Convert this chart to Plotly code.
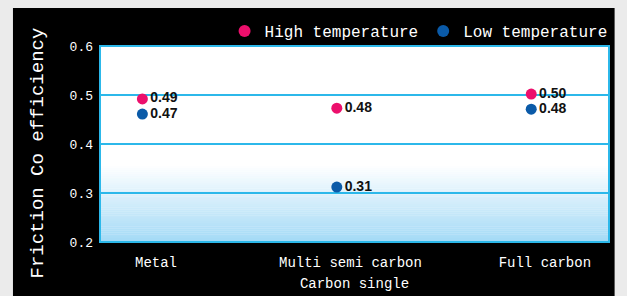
import plotly.graph_objects as go

categories = ["Metal", "Multi semi carbon", "Full carbon"]
high_temp = [0.492, 0.473, 0.502]
low_temp = [0.461, 0.312, 0.471]
high_labels = ["0.49", "0.48", "0.50"]
low_labels = ["0.47", "0.31", "0.48"]
y_ticks = [0.2, 0.3, 0.4, 0.5, 0.6]

PINK = "#ec0f6c"
BLUE = "#0a5aa8"
GRID = "#2cb8ea"
FONT = "Liberation Mono"

xpos = [i - 0.07 for i in range(len(categories))]

fig = go.Figure()
for name, vals, labels, col in [("High temperature", high_temp, high_labels, PINK),
                                ("Low temperature", low_temp, low_labels, BLUE)]:
    fig.add_trace(go.Scatter(
        x=xpos, y=vals, mode="markers+text", name=name,
        marker=dict(color=col, size=11, line=dict(width=0)),
        text=labels, textposition="middle right",
        textfont=dict(family="Liberation Sans", size=14, color="#111111", weight="bold"),
        cliponaxis=False, hoverinfo="skip",
    ))

shapes = [
    dict(type="rect", xref="paper", yref="paper", x0=-0.171, x1=1.011, y0=-0.35, y1=1.194,
         fillcolor="black", line=dict(width=0), layer="below"),
    dict(type="rect", xref="paper", yref="paper", x0=0, x1=1, y0=0, y1=1,
         fillcolor="white", line=dict(width=0), layer="below"),
]
n = 40
y_start, y_end = 0.2, 0.355
top = (255, 255, 255)
bot = (164, 218, 246)
for i in range(n):
    f0 = i / n
    f1 = (i + 1) / n
    c = tuple(round(bot[k] + (top[k] - bot[k]) * f0) for k in range(3))
    shapes.append(dict(type="rect", xref="paper", yref="y",
                       x0=0, x1=1, y0=y_start + (y_end - y_start) * f0,
                       y1=y_start + (y_end - y_start) * f1 + 0.0005,
                       fillcolor=f"rgb{c}", line=dict(width=0), layer="below"))
shapes.append(dict(type="rect", xref="paper", yref="paper", x0=0, x1=1, y0=0, y1=1,
                   line=dict(color=GRID, width=2), layer="above"))

fig.update_layout(
    width=627, height=296,
    margin=dict(l=100, r=18, t=46, b=54, autoexpand=False),
    paper_bgcolor="#ebebeb",
    plot_bgcolor="white",
    shapes=shapes,
    showlegend=True,
    legend=dict(orientation="h", x=0.977, xref="container", xanchor="right",
                y=0.895, yref="container", yanchor="middle",
                font=dict(family=FONT, size=16, color="white"),
                bgcolor="rgba(0,0,0,0)", tracegroupgap=0, itemsizing="constant"),
    annotations=[dict(text="Friction Co efficiency", xref="paper", yref="paper",
                      x=-0.1218, y=0.4515, xanchor="center", yanchor="middle",
                      textangle=-90, showarrow=False,
                      font=dict(family=FONT, size=19, color="white"))],
    xaxis=dict(
        range=[-0.288, 2.33], tickvals=list(range(len(categories))), ticktext=categories,
        showgrid=False, zeroline=False, showline=False, ticks="", automargin=False,
        ticklabelstandoff=10,
        tickfont=dict(family=FONT, size=14, color="white"),
        title=dict(text="Carbon single", font=dict(family=FONT, size=14, color="white"), standoff=8),
    ),
    yaxis=dict(
        range=[0.2, 0.6], tickvals=y_ticks, tickformat=".1f",
        showgrid=True, gridcolor=GRID, gridwidth=2, zeroline=False, showline=False,
        ticks="", automargin=False, ticklabelstandoff=6,
        tickfont=dict(family=FONT, size=13, color="white"),
    ),
)

fig.write_html(
    "out.html",
    config={"displayModeBar": False},
    post_script="document.body.style.margin='0';document.body.style.background='#ebebeb';",
)
